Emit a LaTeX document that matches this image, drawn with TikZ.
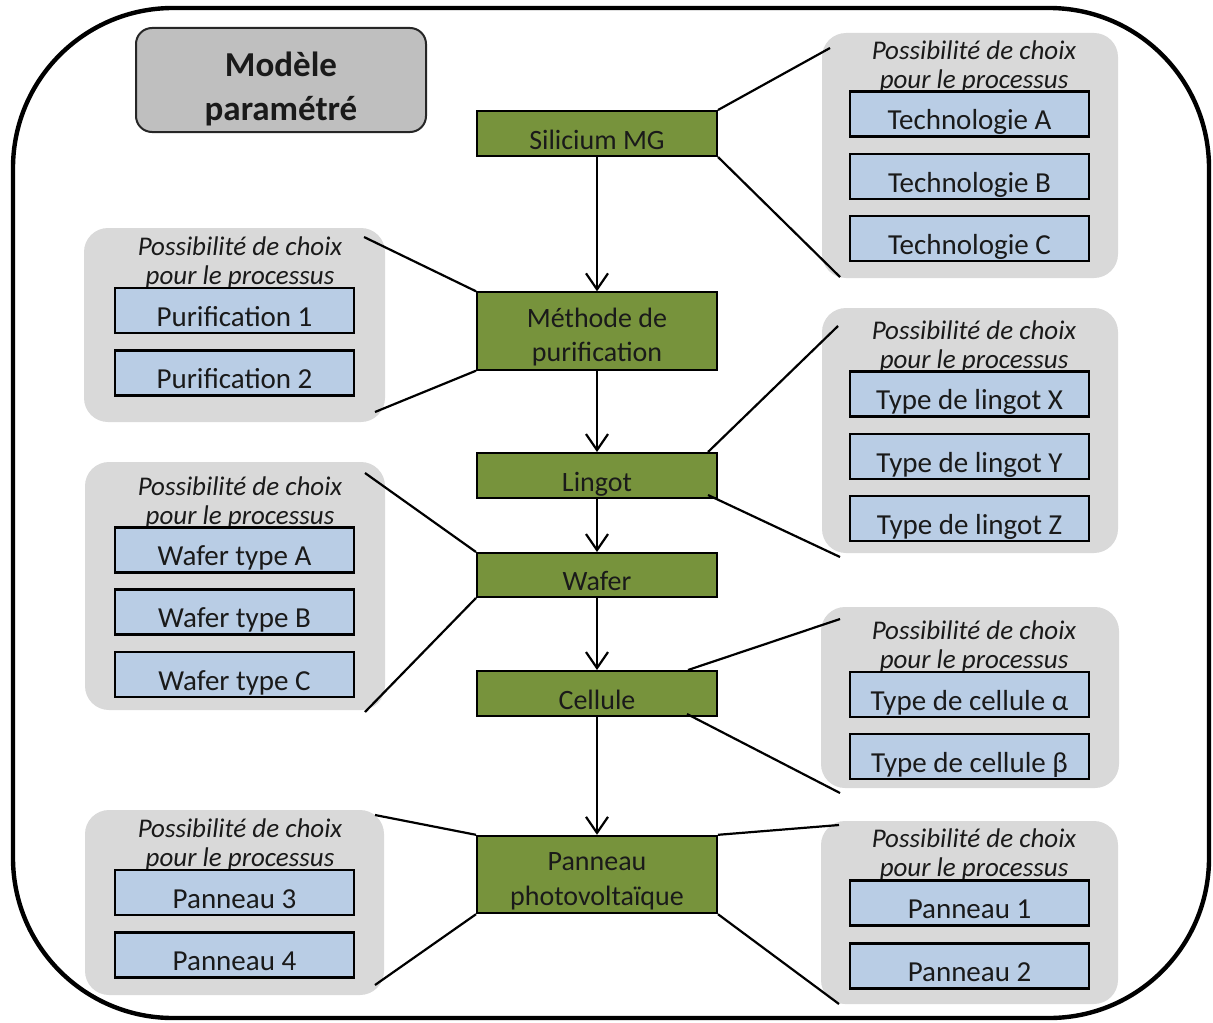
\documentclass[tikz,border=0pt]{standalone}
\usepackage{fontspec}
\setmainfont{Carlito}
\usetikzlibrary{arrows.meta}
\definecolor{grn}{HTML}{77933C}
\definecolor{blu}{HTML}{B9CDE5}
\definecolor{grp}{HTML}{D9D9D9}
\definecolor{modc}{HTML}{BFBFBF}
\definecolor{ink}{HTML}{1A1A1A}
\begin{document}
\begin{tikzpicture}[x=0.5pt,y=-0.5pt,
  cadre/.style={draw=black, line width=2.2pt, rounded corners=80pt, minimum width=598pt, minimum height=505pt, inner sep=0pt},
  modbox/.style={draw=black!85, line width=1pt, fill=modc, rounded corners=8pt, minimum width=145pt, minimum height=52pt, inner sep=0pt, align=center, text=ink, font=\fontsize{17.5}{22}\selectfont\bfseries},
  gbox/.style={draw=black, line width=1pt, fill=grn, minimum width=120pt, minimum height=22.5pt, inner sep=0pt, text height=15.5pt, text depth=0pt, text=ink, font=\fontsize{14}{17}\selectfont},
  gboxtwo/.style={draw=black, line width=1pt, fill=grn, minimum width=120pt, inner sep=0pt, align=center, text=ink, font=\fontsize{14}{17.35}\selectfont},
  bbox/.style={draw=black, line width=1.2pt, fill=blu, minimum width=119.5pt, minimum height=22.5pt, inner sep=0pt, text height=15.5pt, text depth=0pt, text=ink, font=\fontsize{14.5}{17}\selectfont},
  grpbox/.style={fill=grp, rounded corners=12pt, inner sep=0pt},
  ttl/.style={anchor=north, inner sep=0pt, align=center, text=ink, font=\fontsize{13.5}{14.5}\selectfont\itshape},
  link/.style={line width=1.1pt},
  flow/.style={line width=1.1pt, -{Straight Barb[length=8pt,width=11pt]}}
]
\useasboundingbox (0,0) rectangle (1213,1022);
\node[cadre] (frame) at (611,513) {};
\node[modbox] (modele) at (281,80) {\rule{0pt}{23.7pt}Modèle\\paramétré\rule[-5pt]{0pt}{5pt}};

% groups
\node[grpbox, minimum width=148pt, minimum height=122.5pt] (gR1) at (970,155.5) {};
\node[grpbox, minimum width=150.5pt, minimum height=97pt] (gL1) at (234.5,325) {};
\node[grpbox, minimum width=148pt, minimum height=122.5pt] (gR2) at (970,430.5) {};
\node[grpbox, minimum width=150pt, minimum height=124pt] (gL2) at (235,586) {};
\node[grpbox, minimum width=149pt, minimum height=90.5pt] (gR3) at (970,697.5) {};
\node[grpbox, minimum width=149.5pt, minimum height=92.5pt] (gL3) at (234.5,902.5) {};
\node[grpbox, minimum width=148.5pt, minimum height=91.5pt] (gR4) at (969.5,912.5) {};

% titles
\node[ttl] (tR1) at (974,35) {\rule{0pt}{12pt}Possibilité de choix\\pour le processus};
\node[ttl] (tL1) at (240,231) {\rule{0pt}{12pt}Possibilité de choix\\pour le processus};
\node[ttl] (tR2) at (974,315) {\rule{0pt}{12pt}Possibilité de choix\\pour le processus};
\node[ttl] (tL2) at (240,471) {\rule{0pt}{12pt}Possibilité de choix\\pour le processus};
\node[ttl] (tR3) at (974,615) {\rule{0pt}{12pt}Possibilité de choix\\pour le processus};
\node[ttl] (tL3) at (240,813) {\rule{0pt}{12pt}Possibilité de choix\\pour le processus};
\node[ttl] (tR4) at (974,823) {\rule{0pt}{12pt}Possibilité de choix\\pour le processus};

% options
\node[bbox] (techA) at (969.5,114) {Technologie A};
\node[bbox] (techB) at (969.5,176.5) {Technologie B};
\node[bbox] (techC) at (969.5,238.5) {Technologie C};
\node[bbox] (pur1) at (234.5,310.5) {Purification 1};
\node[bbox] (pur2) at (234.5,373) {Purification 2};
\node[bbox] (linX) at (969.5,394) {Type de lingot X};
\node[bbox] (linY) at (969.5,456.5) {Type de lingot Y};
\node[bbox] (linZ) at (969.5,518.5) {Type de lingot Z};
\node[bbox] (wafA) at (234.5,550) {Wafer type A};
\node[bbox] (wafB) at (234.5,612) {Wafer type B};
\node[bbox] (wafC) at (234.5,674.5) {Wafer type C};
\node[bbox] (celA) at (969.5,694.5) {Type de cellule α};
\node[bbox] (celB) at (969.5,756.5) {Type de cellule β};
\node[bbox] (pan3) at (234.5,892.5) {Panneau 3};
\node[bbox] (pan4) at (234.5,955) {Panneau 4};
\node[bbox] (pan1) at (969.5,903) {Panneau 1};
\node[bbox] (pan2) at (969.5,966) {Panneau 2};

% process chain
\node[gbox] (sil) at (597,133.5) {Silicium MG};
\node[gboxtwo, minimum height=37pt] (meth) at (597,331) {\rule{0pt}{17.35pt}Méthode de\\purification\rule[-4pt]{0pt}{4pt}};
\node[gbox] (lin) at (597,475.5) {Lingot};
\node[gbox, minimum height=22pt] (waf) at (597,575) {Wafer};
\node[gbox] (cel) at (597,693.5) {Cellule};
\node[gboxtwo, minimum height=37.5pt] (pan) at (597,874.5) {\rule{0pt}{17.35pt}Panneau\\photovoltaïque\rule[-4pt]{0pt}{4pt}};

% free ends of the links
\coordinate (s1) at (830,48);
\coordinate (s2) at (840,277);
\coordinate (m1) at (364,237);
\coordinate (m2) at (375,412);
\coordinate (l1) at (838,326);
\coordinate (l2) at (840,557);
\coordinate (w1) at (365,473);
\coordinate (w2) at (365,712);
\coordinate (c1) at (840,619);
\coordinate (c2) at (840,793);
\coordinate (p1) at (375,815);
\coordinate (p2) at (375,985);
\coordinate (p3) at (839,825);
\coordinate (p4) at (839,1004);

\draw[link] (sil.north east) -- (s1);
\draw[link] (sil.south east) -- (s2);
\draw[link] (meth.north west) -- (m1);
\draw[link] (meth.south west) -- (m2);
\draw[link] ([xshift=-5pt]lin.north east) -- (l1);
\draw[link] ([xshift=-5pt,yshift=2pt]lin.south east) -- (l2);
\draw[link] (waf.north west) -- (w1);
\draw[link] (waf.south west) -- (w2);
\draw[link] ([xshift=-15pt]cel.north east) -- (c1);
\draw[link] ([xshift=-15.5pt,yshift=1.5pt]cel.south east) -- (c2);
\draw[link] (pan.north west) -- (p1);
\draw[link] (pan.south west) -- (p2);
\draw[link] (pan.north east) -- (p3);
\draw[link] (pan.south east) -- (p4);

\draw[flow] (sil) -- (meth);
\draw[flow] (meth) -- (lin);
\draw[flow] (lin) -- (waf);
\draw[flow] (waf) -- (cel);
\draw[flow] (cel) -- (pan);
\end{tikzpicture}
\end{document}
